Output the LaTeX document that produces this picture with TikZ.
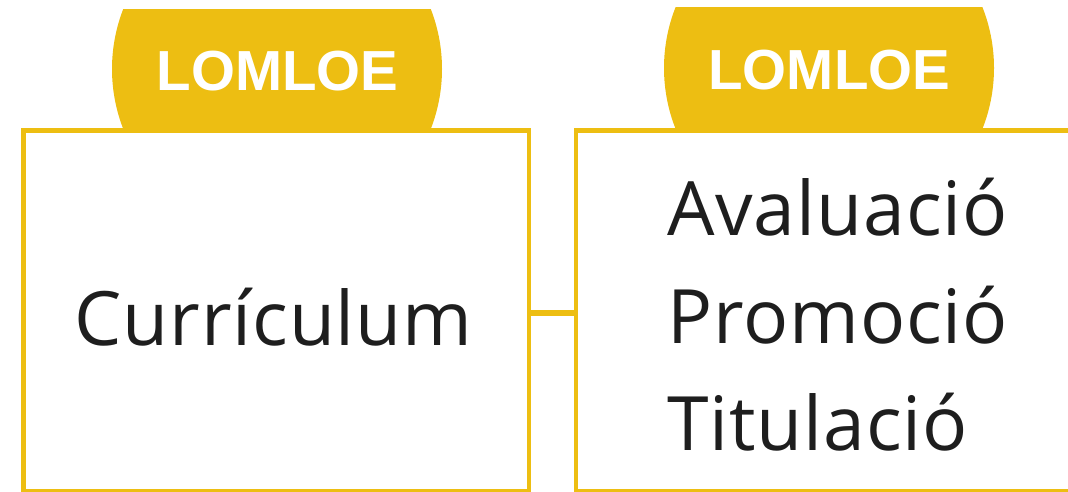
\documentclass[tikz,border=0pt]{standalone}
\usepackage{fontspec}
\setmainfont{Open Sans}
\newfontfamily\tabfont{Liberation Sans}
\newfontfamily\bodyfont{Open Sans}[LetterSpace=1.2]
\definecolor{gold}{RGB}{237,190,18}
\definecolor{ink}{RGB}{30,30,30}
\tikzset{
  frame/.style={draw=gold, line width=4.3pt},
  tablabel/.style={text=white, font=\tabfont\bfseries\fontsize{56.5}{60}\selectfont, inner sep=0pt, anchor=base},
  bodytext/.style={text=ink, font=\bodyfont\fontsize{75}{80}\selectfont, inner sep=0pt},
  link/.style={draw=gold, line width=5.7pt}
}
\begin{document}
\begin{tikzpicture}[x=1pt,y=-1pt]
\useasboundingbox (0,0) rectangle (1068,492);
% tabs
\begin{scope}
  \clip (0,10) rectangle (550,128.5);
  \fill[gold] (277,69) circle[radius=165pt];
\end{scope}
\begin{scope}
  \clip (550,7.5) rectangle (1068,128.5);
  \fill[gold] (829,68) circle[radius=165pt];
\end{scope}
\node[tablabel] (t1) at (277.7,90.7) {LOMLOE};
\node[tablabel] (t2) at (829.3,89.3) {LOMLOE};
% boxes
\node[frame, minimum width=505.5pt, minimum height=361pt, inner sep=0pt, outer sep=0pt, anchor=north west] (b1) at (23.5,130.5) {};
\draw[frame] (1080,130.5) -- (576,130.5) -- (576,491.5) -- (1080,491.5);
\coordinate (b2w) at (576,313);
\draw[link] (b1.east |- 0,313) -- (b2w);
% texts
\node[bodytext, anchor=base] (c) at (273.5,345) {Currículum};
\node[bodytext, anchor=base west] (a) at (667,235) {Avaluació};
\node[bodytext, anchor=base west] (p) at (667,343) {Promoció};
\node[bodytext, anchor=base west] (tt) at (667,450) {Titulació};
\end{tikzpicture}
\end{document}
